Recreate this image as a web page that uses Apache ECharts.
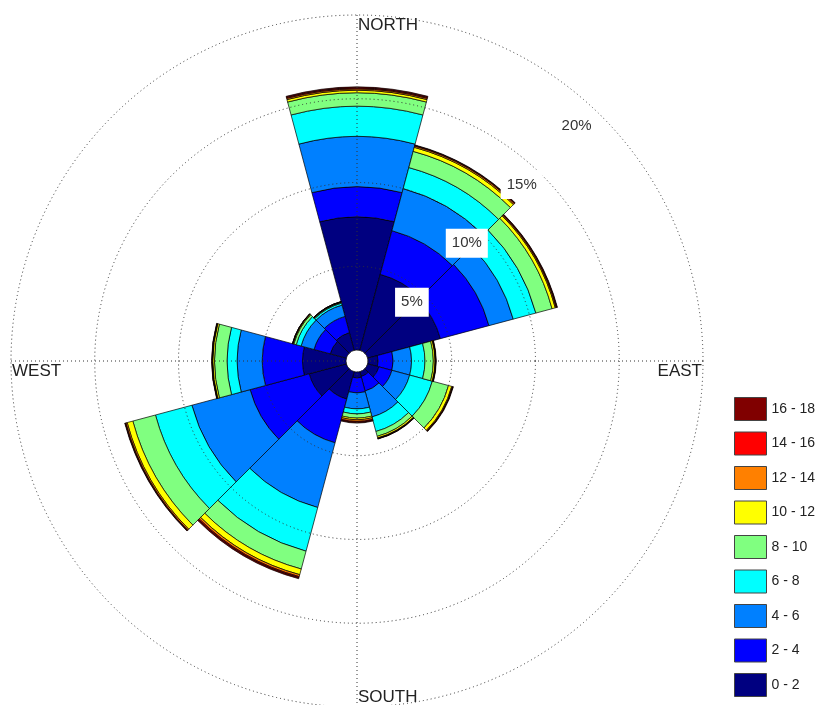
<!DOCTYPE html>
<html>
<head>
<meta charset="utf-8">
<script src="https://cdn.jsdelivr.net/npm/echarts@6/dist/echarts.min.js"></script>
<style>
  html, body { margin: 0; padding: 0; background: #fff; }
  #chart { width: 829px; height: 705px; }
</style>
</head>
<body>
<div id="chart"></div>
<script>
// wind directions, clockwise from north (30 degree sectors)
const directions = ['N', '30', '60', 'E', '120', '150', 'S', '210', '240', 'W', '300', '330'];

// speed classes, bottom of the stack first
const speedBins = ['0 - 2', '2 - 4', '4 - 6', '6 - 8', '8 - 10', '10 - 12', '12 - 14', '14 - 16', '16 - 18'];
const binColors = ['#000080', '#0000FF', '#0080FF', '#00FFFF', '#80FF80', '#FFFF00', '#FF8000', '#FF0000', '#800000'];

// frequency (%) of each speed class per direction
const speed0_2   = [7.95, 4.7, 4.5, 0.6, 0.7, 0.3, 0.35, 1.7, 2.3, 2.6, 1.0, 1.1];
const speed2_4   = [1.8, 2.7, 3.0, 0.9, 0.8, 0.9, 0.9, 2.7, 3.65, 2.4, 1.0, 1.0];
const speed4_6   = [3.0, 2.6, 1.5, 1.1, 1.1, 1.6, 0.95, 4.0, 3.6, 1.5, 0.8, 0.7];
const speed6_8   = [1.8, 1.3, 1.4, 0.8, 1.4, 0.9, 0.3, 2.7, 2.25, 0.6, 0.3, 0.12];
const speed8_10  = [0.8, 1.0, 1.0, 0.5, 1.0, 0.3, 0.25, 1.1, 1.4, 0.75, 0.15, 0.05];
const speed10_12 = [0.15, 0.25, 0.2, 0.1, 0.2, 0.1, 0.1, 0.35, 0.35, 0.1, 0.05, 0.02];
const speed12_14 = [0.08, 0.08, 0.06, 0.03, 0.05, 0.03, 0.1, 0.12, 0.08, 0.03, 0.02, 0.01];
const speed14_16 = [0.06, 0.04, 0.04, 0.02, 0.02, 0.02, 0.05, 0.06, 0.04, 0.02, 0.01, 0.01];
const speed16_18 = [0.06, 0.03, 0.03, 0.02, 0.03, 0.02, 0.05, 0.07, 0.03, 0.02, 0.01, 0.01];

const binData = [speed0_2, speed2_4, speed4_6, speed6_8, speed8_10, speed10_12, speed12_14, speed14_16, speed16_18];

// ring values and compass labels
const ringTicks = [5, 10, 15, 20];
const compass = ['NORTH', 'EAST', 'SOUTH', 'WEST'];

const chart = echarts.init(document.getElementById('chart'), null, { renderer: 'canvas' });

const center = [357, 361];
const dotted = { color: '#333', width: 1, type: [1, 3] };
const textFont = "'Liberation Sans', Arial, sans-serif";

const option = {
  animation: false,
  backgroundColor: '#fff',
  polar: [
    { center: center, radius: [11, 346] },   // bars + rings
    { center: center, radius: [11, 346] },   // cardinal spokes
    { center: center, radius: [0, 322] }     // ring labels
  ],
  angleAxis: [
    {
      polarIndex: 0, type: 'category', data: directions,
      startAngle: 105, clockwise: true,
      axisLine: { show: false }, axisTick: { show: false },
      axisLabel: { show: false }, splitLine: { show: false }
    },
    {
      polarIndex: 1, type: 'value', min: 0, max: 360, interval: 90,
      startAngle: 90, clockwise: true, z: 5,
      axisLine: { show: false }, axisTick: { show: false },
      axisLabel: { show: false },
      splitLine: { show: true, lineStyle: dotted }
    },
    {
      polarIndex: 2, type: 'value', min: 0, max: 360, startAngle: 47, show: false
    }
  ],
  radiusAxis: [
    {
      polarIndex: 0, type: 'value', min: 0, max: 20, interval: 5, z: 5,
      axisLine: { show: false }, axisTick: { show: false },
      axisLabel: { show: false },
      splitLine: { show: true, lineStyle: dotted }
    },
    {
      polarIndex: 1, type: 'value', min: 0, max: 20, show: false
    },
    {
      polarIndex: 2, type: 'value', min: 0, max: 20, interval: 5, z: 10,
      axisLine: { show: false }, axisTick: { show: false },
      splitLine: { show: false },
      axisLabel: {
        showMinLabel: false,
        formatter: v => ringTicks.includes(v) ? v + '%' : '',
        margin: 0, align: 'center', verticalAlign: 'middle',
        backgroundColor: '#fff', padding: [7, 6],
        color: '#333', fontSize: 15, fontFamily: textFont
      }
    }
  ],
  legend: {
    orient: 'vertical',
    left: 734, top: 397, padding: 0,
    itemWidth: 32, itemHeight: 23, itemGap: 10.5,
    icon: 'rect',
    selectedMode: false,
    data: speedBins.slice().reverse(),
    itemStyle: { borderColor: '#444', borderWidth: 1 },
    textStyle: { color: '#222', fontSize: 14, fontFamily: textFont }
  },
  graphic: [
    { type: 'text', x: 358, y: 17, style: { text: compass[0], fill: '#222', font: '17px ' + textFont } },
    { type: 'text', x: 702, y: 363, style: { text: compass[1], fill: '#222', font: '17px ' + textFont, align: 'right' } },
    { type: 'text', x: 358, y: 689, style: { text: compass[2], fill: '#222', font: '17px ' + textFont } },
    { type: 'text', x: 12, y: 363, style: { text: compass[3], fill: '#222', font: '17px ' + textFont } }
  ],
  series: speedBins.map((name, i) => ({
    name: name,
    type: 'bar',
    coordinateSystem: 'polar',
    polarIndex: 0,
    stack: 'rose',
    barCategoryGap: '0%',
    data: binData[i],
    itemStyle: { color: binColors[i], borderColor: '#000', borderWidth: 0.7 },
    emphasis: { disabled: true }
  }))
};

chart.setOption(option);
</script>
</body>
</html>
